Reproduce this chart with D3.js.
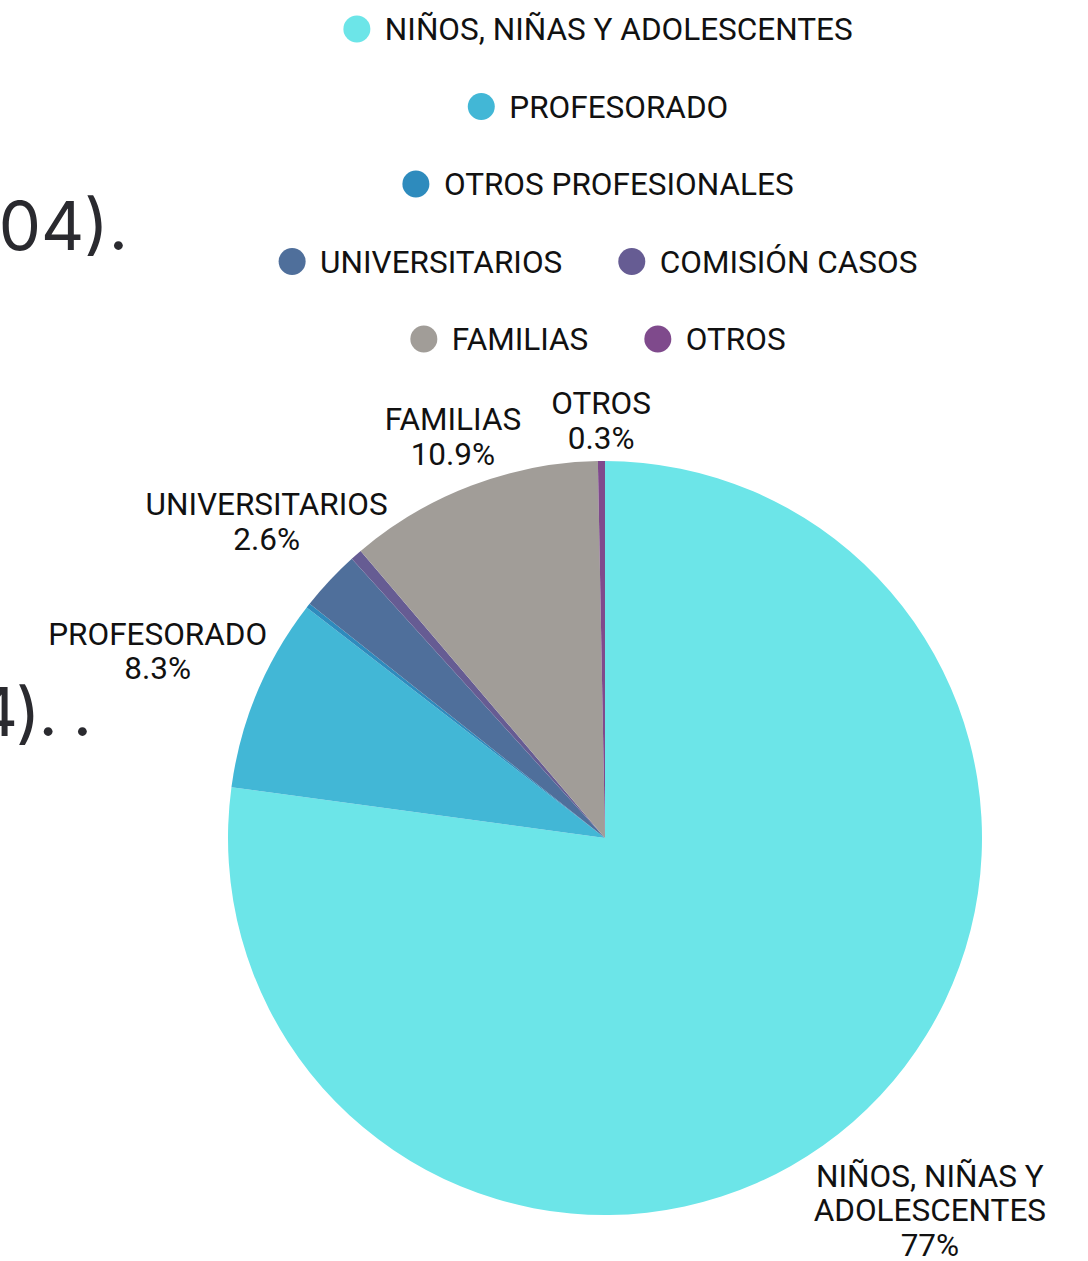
<!DOCTYPE html>
<html>
<head>
<meta charset="utf-8">
<script src="https://cdn.jsdelivr.net/npm/d3@7"></script>
<style>
  html, body { margin: 0; padding: 0; background: #ffffff; overflow: hidden; }
  svg { display: block; }
</style>
</head>
<body>
<svg id="chart" width="1088" height="1261"></svg>
<script>
// ---- data ----
const categories = [
  "NIÑOS, NIÑAS Y ADOLESCENTES",
  "PROFESORADO",
  "OTROS PROFESIONALES",
  "UNIVERSITARIOS",
  "COMISIÓN CASOS",
  "FAMILIAS",
  "OTROS"
];
const percentages = [77.0, 8.3, 0.2, 2.6, 0.5, 10.9, 0.3];
const sliceColors = ["#6ce5e8", "#42b7d6", "#2e8bbd", "#4f6f9b", "#665c93", "#a19d98", "#7f4a8c"];
const backgroundFragments = ["104).", "4). ."];

// ---- layout ----
const W = 1088, H = 1261;
const cx = 605, cy = 838, R = 377;
const FONT = "Roboto, 'Liberation Sans', sans-serif";
const FS = 31.5;
const svg = d3.select("#chart");

// background text fragments from the surrounding page
const bgPos = [{x: 128, y: 250, ls: 0}, {x: 90, y: 736, ls: -2}];
svg.append("g").selectAll("text").data(backgroundFragments).join("text")
  .attr("x", (d, i) => bgPos[i].x).attr("y", (d, i) => bgPos[i].y)
  .attr("text-anchor", "end")
  .attr("letter-spacing", (d, i) => bgPos[i].ls + "px")
  .attr("font-family", "Inter, 'Liberation Sans', sans-serif").attr("font-size", 67)
  .attr("fill", "#2a2a2f").text(d => d);

const data = categories.map((c, i) => ({name: c, value: percentages[i], color: sliceColors[i]}));
const color = d3.scaleOrdinal().domain(categories).range(sliceColors);

// ---- legend (flow layout, centered rows) ----
const legendMaxW = 680, legendCx = 598, legendY0 = 29, legendRowH = 77.5;
const dotR = 13.5, dotToText = 28, itemGap = 56;
const legend = svg.append("g");
const measure = svg.append("text").attr("font-family", FONT).attr("font-size", FS);
const items = data.map(d => {
  measure.text(d.name);
  const tw = measure.node().getComputedTextLength();
  return {d, w: dotR + dotToText + tw};
});
measure.remove();
const rows = [];
let cur = [], curW = 0;
items.forEach(it => {
  const add = cur.length ? itemGap + it.w : it.w;
  if (cur.length && curW + add > legendMaxW) { rows.push({items: cur, w: curW}); cur = [it]; curW = it.w; }
  else { cur.push(it); curW += add; }
});
if (cur.length) rows.push({items: cur, w: curW});
rows.forEach((row, ri) => {
  let x = legendCx - row.w / 2;
  const y = legendY0 + ri * legendRowH;
  row.items.forEach(it => {
    const g = legend.append("g").attr("transform", `translate(${x + dotR},${y})`);
    g.append("circle").attr("r", dotR).attr("fill", color(it.d.name));
    g.append("text").attr("x", dotToText).attr("y", 0).attr("dy", "0.36em")
      .attr("font-family", FONT).attr("font-size", FS)
      .attr("fill", "#111").text(it.d.name);
    x += it.w + itemGap;
  });
});

// ---- pie ----
const pie = d3.pie().value(d => d.value).sort(null);
const arc = d3.arc().innerRadius(0).outerRadius(R);
const arcs = pie(data);
const pieG = svg.append("g").attr("transform", `translate(${cx},${cy})`);
pieG.selectAll("path").data(arcs).join("path")
  .attr("d", arc).attr("fill", d => color(d.data.name));

// ---- labels ----
const fmt = d3.format(".3~r");
const lineH = 34.5, capH = 0.71 * FS, labelMaxW = 250, labelGap = 12;
const labelG = pieG.append("g");
const placed = [];
function wrapWords(str) {
  const t = labelG.append("text").attr("font-family", FONT).attr("font-size", FS);
  const words = str.split(" ");
  const lines = [];
  let line = "";
  words.forEach(w => {
    const test = line ? line + " " + w : w;
    t.text(test);
    if (line && t.node().getComputedTextLength() > labelMaxW) { lines.push(line); line = w; }
    else line = test;
  });
  if (line) lines.push(line);
  t.remove();
  return lines;
}
function distToBox(b) {
  const px = Math.max(b.x0, Math.min(0, b.x1));
  const py = Math.max(b.y0, Math.min(0, b.y1));
  return Math.hypot(px, py);
}
const order = arcs.slice().sort((a, b) => b.value - a.value);
order.forEach(a => {
  const lines = wrapWords(a.data.name).concat([fmt(a.data.value) + "%"]);
  const t = labelG.append("text").attr("font-family", FONT).attr("font-size", FS)
    .attr("text-anchor", "middle").attr("fill", "#111");
  const spans = lines.map(l => t.append("tspan").text(l));
  const widths = spans.map(s => s.node().getComputedTextLength());
  const n = lines.length;
  const blockTop = -capH, blockBot = (n - 1) * lineH;
  const midOff = (blockTop + blockBot) / 2;
  const th = (a.startAngle + a.endAngle) / 2;
  const dx = Math.sin(th), dy = -Math.cos(th);
  let r = R, boxes;
  for (; r < R + 400; r += 0.5) {
    const lx = dx * r, ly = dy * r;
    boxes = widths.map((w, i) => ({
      x0: lx - w / 2, x1: lx + w / 2,
      y0: ly - midOff + i * lineH - capH, y1: ly - midOff + i * lineH
    }));
    if (Math.min(...boxes.map(distToBox)) >= R + labelGap) break;
  }
  const bb = {x0: Math.min(...boxes.map(b => b.x0)), x1: Math.max(...boxes.map(b => b.x1)),
              y0: boxes[0].y0, y1: boxes[n - 1].y1};
  const hit = placed.some(p => !(bb.x1 < p.x0 || bb.x0 > p.x1 || bb.y1 < p.y0 || bb.y0 > p.y1));
  if (hit) { t.remove(); return; }
  placed.push(bb);
  const lx = dx * r, ly = dy * r;
  spans.forEach((s, i) => s.attr("x", lx).attr("y", ly - midOff + i * lineH));
});
</script>
</body>
</html>
